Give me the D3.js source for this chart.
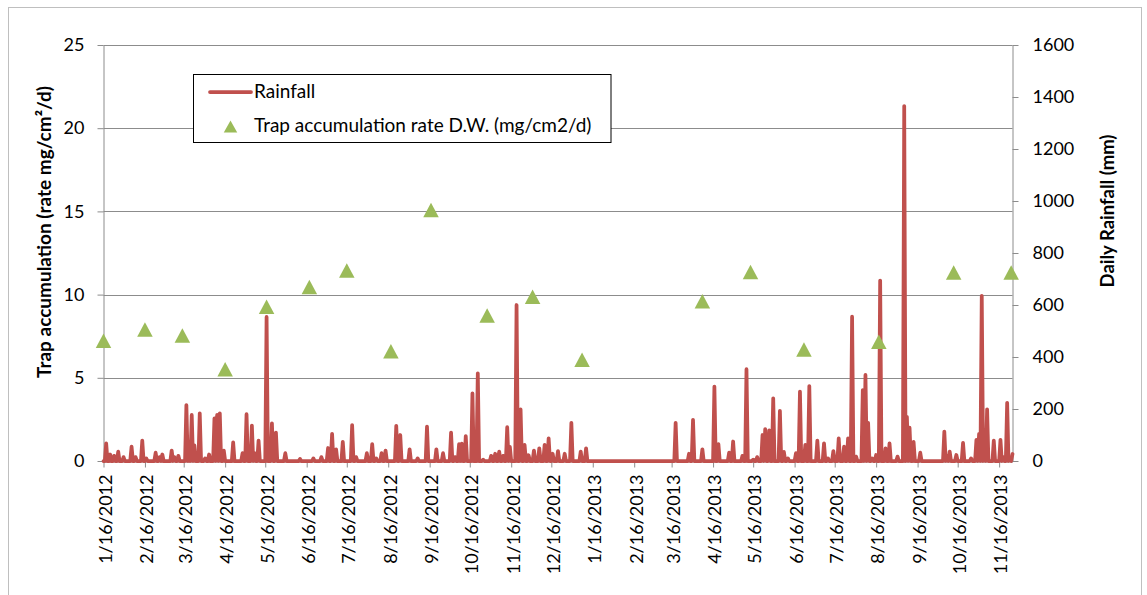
<!DOCTYPE html>
<html>
<head>
<meta charset="utf-8">
<script src="https://cdn.jsdelivr.net/npm/d3@7"></script>
<style>
  html, body { margin: 0; padding: 0; background: #fff; }
  svg { display: block; }
  text { font-family: Lato, "Open Sans", sans-serif; fill: #000; }
</style>
</head>
<body>
<svg id="chart" width="1147" height="595"></svg>
<script>
// ---------------- DATA ----------------
const seriesStart = "1/16/2012";   // first day of the daily rainfall record
const seriesDays = 680;            // last day index shown on the date axis

// Daily rainfall (mm): day index since 1/16/2012 and amount; days not listed had 0 mm
const rainDay = [2,5,8,11,15,21,24,29,32,39,42,44,51,53,56,62,64,66,68,72,76,79,83,85,87,90,97,104,107,111,113,116,122,126,129,136,147,157,163,168,171,174,179,186,189,197,201,204,208,211,219,222,229,235,242,249,254,260,263,266,268,271,276,280,284,290,293,296,299,302,304,309,312,315,318,322,326,330,333,336,340,345,350,357,361,428,438,441,448,457,460,468,471,478,481,486,489,493,495,498,501,506,509,512,518,521,525,528,534,539,542,546,550,554,557,560,563,568,570,572,575,578,581,585,588,594,599,601,603,606,611,629,631,633,638,643,649,653,655,657,659,661,666,671,673,676,678,680];
const rainMm  = [68,25,20,36,15,55,15,78,10,32,15,25,40,15,20,215,60,177,60,183,10,25,164,177,183,40,72,30,180,136,30,78,554,145,109,30,8,10,15,50,104,45,74,138,15,30,65,10,30,40,135,100,45,10,132,45,30,109,15,65,67,96,260,337,5,20,28,36,20,130,54,600,199,62,22,40,49,62,87,28,38,28,147,36,49,147,28,158,45,286,65,32,75,20,353,5,15,100,123,118,241,193,35,10,30,267,62,288,78,68,10,38,87,55,87,555,17,273,331,147,10,23,694,49,68,17,1365,170,128,74,32,113,20,36,23,70,10,81,104,635,120,199,78,81,15,224,10,27];

// Trap accumulation rate D.W. (mg/cm2/d)
const trapDates = ["1/16/2012","2/16/2012","3/15/2012","4/16/2012","5/17/2012","6/18/2012","7/16/2012","8/18/2012","9/17/2012","10/29/2012","12/2/2012","1/8/2013","4/8/2013","5/14/2013","6/23/2013","8/18/2013","10/13/2013","11/25/2013"];
const trapRate  = [7.23,7.90,7.54,5.52,9.27,10.45,11.45,6.60,15.08,8.74,9.87,6.09,9.60,11.36,6.70,7.17,11.33,11.33];

// Axis ticks
const xTickLabels = ["1/16/2012","2/16/2012","3/16/2012","4/16/2012","5/16/2012","6/16/2012","7/16/2012","8/16/2012","9/16/2012","10/16/2012","11/16/2012","12/16/2012","1/16/2013","2/16/2013","3/16/2013","4/16/2013","5/16/2013","6/16/2013","7/16/2013","8/16/2013","9/16/2013","10/16/2013","11/16/2013"];
const leftTicks  = [0,5,10,15,20,25];
const rightTicks = [0,200,400,600,800,1000,1200,1400,1600];

const leftTitle  = "Trap accumulation (rate mg/cm\u00B2/d)";
const rightTitle = "Daily Rainfall (mm)";
const legendRain = "Rainfall";
const legendTrap = "Trap accumulation rate D.W. (mg/cm2/d)";

// ---------------- HELPERS ----------------
function parseMDY(s) {
  const [m, d, y] = s.split("/").map(Number);
  return new Date(y, m - 1, d);
}
const start = parseMDY(seriesStart);

// Build the full daily series from the listed rain days (unlisted days = 0 mm)
const rainMap = new Map(rainDay.map((d, i) => [d, rainMm[i]]));
const rainSeries = d3.range(0, seriesDays + 1).map(i => ({
  date: d3.timeDay.offset(start, i),
  mm: rainMap.has(i) ? rainMap.get(i) : 0
}));
const trapSeries = trapDates.map((d, i) => ({ date: parseMDY(d), v: trapRate[i] }));

// ---------------- LAYOUT ----------------
const plot = { left: 103.5, right: 1012.5, top: 45, bottom: 461 };
const gridColor = "#8C8C8C";
const rainColor = "#C0504D";
const trapColor = "#9BBB59";
const tickFont = 18;

const svg = d3.select("#chart");

const x = d3.scaleTime()
  .domain([start, d3.timeDay.offset(start, seriesDays)])
  .range([plot.left, plot.right]);
const yL = d3.scaleLinear().domain([0, 25]).range([plot.bottom, plot.top]);
const yR = d3.scaleLinear().domain([0, 1600]).range([plot.bottom, plot.top]);

// outer chart border
svg.append("rect")
  .attr("x", 8.5).attr("y", 7.5).attr("width", 1133).attr("height", 600)
  .attr("fill", "none").attr("stroke", "#BFBFBF").attr("stroke-width", 1);

// gridlines
svg.append("g").selectAll("line")
  .data(leftTicks.filter(t => t > 0))
  .join("line")
  .attr("x1", plot.left).attr("x2", plot.right)
  .attr("y1", d => Math.round(yL(d)) + 0.5).attr("y2", d => Math.round(yL(d)) + 0.5)
  .attr("stroke", gridColor).attr("stroke-width", 1);

// axes
function styleAxis(g) {
  g.select(".domain").attr("stroke", gridColor);
  g.selectAll(".tick line").attr("stroke", gridColor);
  g.selectAll("text").style("font-family", "Lato, sans-serif").attr("fill", "#000");
}

const xAxis = d3.axisBottom(x)
  .tickValues(xTickLabels.map(parseMDY))
  .tickFormat((d, i) => xTickLabels[i])
  .tickSize(6).tickSizeOuter(0);
const gx = svg.append("g")
  .attr("transform", `translate(0,${plot.bottom + 0.5})`)
  .call(xAxis).call(styleAxis);
gx.selectAll("text")
  .attr("font-size", tickFont)
  .attr("transform", "rotate(-90)")
  .attr("text-anchor", "end")
  .attr("x", -13).attr("y", 1.5).attr("dy", "0.35em");

const gl = svg.append("g")
  .attr("transform", `translate(${plot.left},0)`)
  .call(d3.axisLeft(yL).tickValues(leftTicks).tickSize(6).tickSizeOuter(0).tickPadding(13))
  .call(styleAxis);
gl.selectAll("text").attr("font-size", tickFont);

const gr = svg.append("g")
  .attr("transform", `translate(${plot.right},0)`)
  .call(d3.axisRight(yR).tickValues(rightTicks).tickFormat(d3.format("d"))
        .tickSize(6).tickSizeOuter(0).tickPadding(14))
  .call(styleAxis);
gr.selectAll("text").attr("font-size", tickFont);

// rainfall line
const line = d3.line().x(d => x(d.date)).y(d => yR(d.mm));
svg.append("path")
  .datum(rainSeries)
  .attr("d", line)
  .attr("fill", "none")
  .attr("stroke", rainColor)
  .attr("stroke-width", 3.75)
  .attr("stroke-linejoin", "round")
  .attr("stroke-linecap", "round");

// trap markers (triangles)
function triPath(w, h) {
  return `M0,${-h / 2}L${w / 2},${h / 2}L${-w / 2},${h / 2}Z`;
}
svg.append("g").selectAll("path")
  .data(trapSeries)
  .join("path")
  .attr("d", triPath(15.5, 14.5))
  .attr("transform", d => `translate(${x(d.date)},${yL(d.v)})`)
  .attr("fill", trapColor);

// axis titles
svg.append("text")
  .attr("transform", "translate(51,232) rotate(-90)")
  .attr("text-anchor", "middle")
  .attr("font-size", 19).attr("font-weight", "bold")
  .text(leftTitle);
svg.append("text")
  .attr("transform", "translate(1114,211) rotate(-90)")
  .attr("text-anchor", "middle")
  .attr("font-size", 18.5).attr("font-weight", "bold")
  .text(rightTitle);

// legend
const lg = svg.append("g");
lg.append("rect")
  .attr("x", 193.5).attr("y", 74.5).attr("width", 417.5).attr("height", 68)
  .attr("fill", "#fff").attr("stroke", "#000").attr("stroke-width", 1);
lg.append("line")
  .attr("x1", 210).attr("x2", 251).attr("y1", 92).attr("y2", 92)
  .attr("stroke", rainColor).attr("stroke-width", 3.75).attr("stroke-linecap", "round");
lg.append("text").attr("x", 254).attr("y", 98).attr("font-size", 19).text(legendRain);
lg.append("path")
  .attr("d", triPath(13.5, 12))
  .attr("transform", "translate(230.5,126.5)")
  .attr("fill", trapColor);
lg.append("text").attr("x", 254).attr("y", 132).attr("font-size", 19).text(legendTrap);
</script>
</body>
</html>
